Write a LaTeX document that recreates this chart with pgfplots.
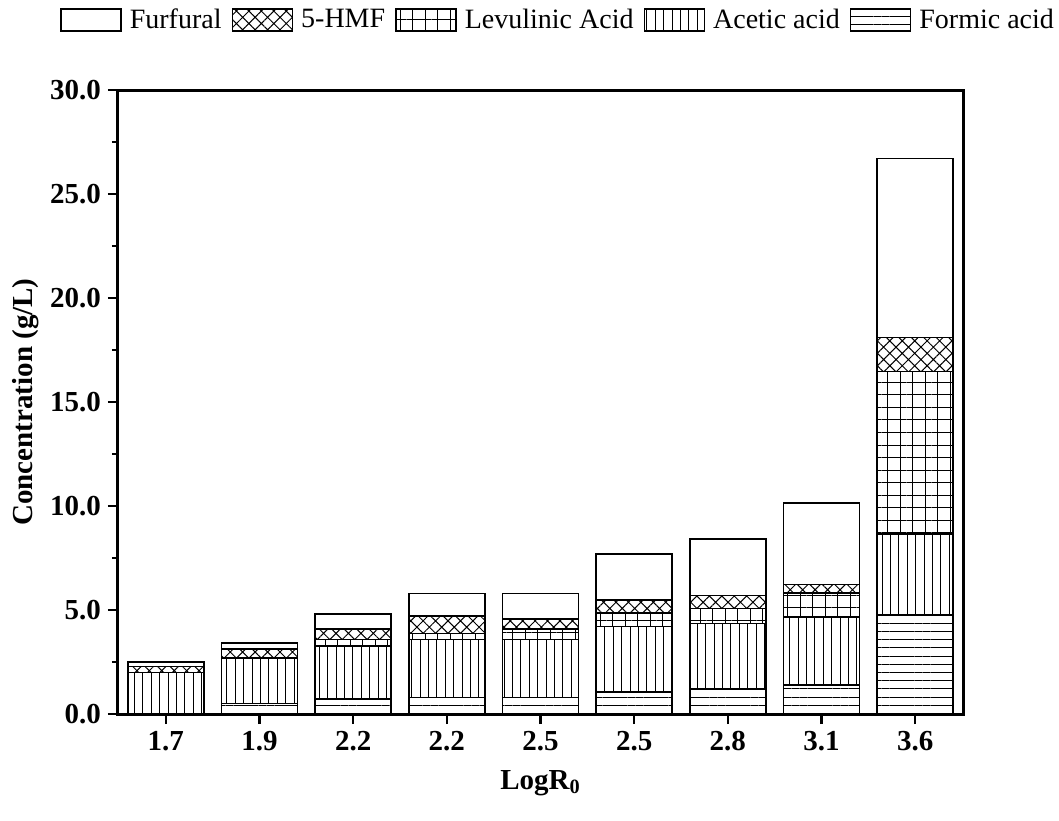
\documentclass[border=0pt]{standalone}
\usepackage{pgfplots}
\pgfplotsset{compat=1.18}
\usetikzlibrary{patterns.meta}
\usepackage{fontspec}
\setmainfont{Liberation Serif}
\begin{document}
\begin{tikzpicture}
\useasboundingbox (-59pt,-53pt) rectangle (470.5pt,357pt);
\begin{axis}[
  at={(0,0)}, anchor=south west,
  scale only axis, width=422.5pt, height=312pt,
  ybar stacked, bar width=0.81,
  xmin=-0.51, xmax=8.51, ymin=0, ymax=30,
  xtick={0,...,8}, xticklabels={1.7,1.9,2.2,2.2,2.5,2.5,2.8,3.1,3.6},
  ytick={0,5,...,30}, minor ytick={2.5,7.5,...,27.5},
  tick align=outside, xtick pos=bottom, ytick pos=left,
  major tick length=5pt, minor tick length=3pt,
  every tick/.style={black, line width=1.2pt},
  axis line style={line width=1.5pt},
  /pgf/number format/assume math mode=true,
  yticklabel style={/pgf/number format/fixed, /pgf/number format/fixed zerofill, /pgf/number format/precision=1},
  ticklabel style={font=\fontsize{14.5}{17}\selectfont\bfseries},
  label style={font=\fontsize{14.5}{17}\selectfont\bfseries},
  xlabel={LogR\textsubscript{0}}, ylabel={Concentration (g/L)},
  ylabel style={yshift=-1pt},
  xlabel style={yshift=-3pt},
  every axis plot/.append style={draw=black, line width=0.8pt},
  legend columns=-1,
  reverse legend,
  legend style={draw=none, fill=none, at={(0.522,1.112)}, anchor=center,
    font=\fontsize{14}{16}\selectfont,
    /tikz/every odd column/.append style={column sep=2pt},
    /tikz/every even column/.append style={column sep=3pt}},
  legend image code/.code={\draw[#1,/tikz/.cd,line width=0.8pt] (0pt,-5.5pt) rectangle (30pt,5.5pt);},
]
\addplot[pattern={Lines[angle=0,distance=4.1pt,line width=0.5pt]}] coordinates {(0,0) (1,0.51) (2,0.71) (3,0.80) (4,0.79) (5,1.07) (6,1.19) (7,1.40) (8,4.76)};
\addlegendentry{Formic acid}
\addplot[pattern={Lines[angle=90,distance=4.2pt,line width=0.5pt]}] coordinates {(0,2.0) (1,2.17) (2,2.57) (3,2.79) (4,2.80) (5,3.13) (6,3.17) (7,3.25) (8,3.90)};
\addlegendentry{Acetic acid}
\addplot[pattern={Hatch[angle=0,distance=6.25pt,line width=0.5pt]}] coordinates {(0,0) (1,0) (2,0.31) (3,0.29) (4,0.51) (5,0.67) (6,0.72) (7,1.17) (8,7.80)};
\addlegendentry{Levulinic Acid}
\addplot[pattern={Hatch[angle=45,distance=4.4pt,line width=0.5pt]}] coordinates {(0,0.28) (1,0.45) (2,0.50) (3,0.83) (4,0.48) (5,0.61) (6,0.61) (7,0.40) (8,1.64)};
\addlegendentry{5-HMF}
\addplot[fill=white] coordinates {(0,0.22) (1,0.27) (2,0.72) (3,1.09) (4,1.21) (5,2.21) (6,2.71) (7,3.93) (8,8.60)};
\addlegendentry{Furfural}
\end{axis}
\end{tikzpicture}
\end{document}
